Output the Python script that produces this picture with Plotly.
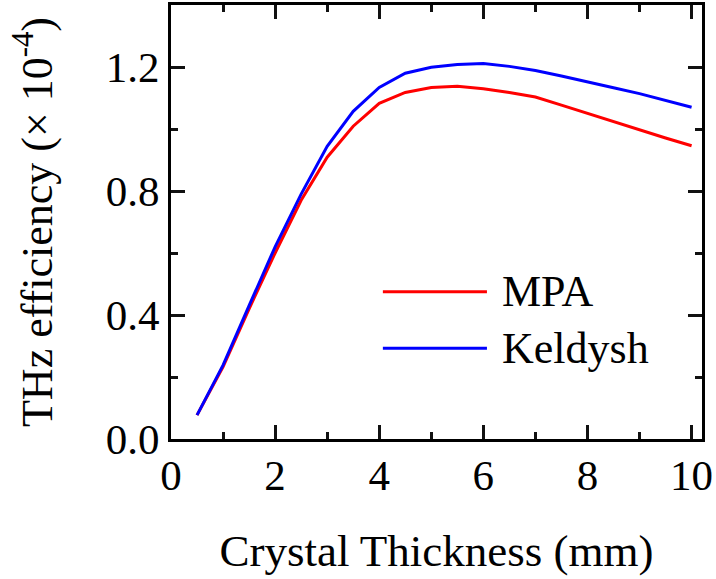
import plotly.graph_objects as go

thickness = [0.5, 1.0, 1.5, 2.0, 2.5, 3.0, 3.5, 4.0, 4.5, 5.0, 5.5, 6.0, 6.5, 7.0, 7.5, 8.0, 8.5, 9.0, 9.5, 10.0]
mpa = [0.077, 0.233, 0.420, 0.600, 0.770, 0.909, 1.009, 1.083, 1.118, 1.134, 1.138, 1.130, 1.118, 1.103, 1.077, 1.050, 1.023, 0.996, 0.971, 0.946]
keldysh = [0.077, 0.238, 0.430, 0.620, 0.790, 0.944, 1.057, 1.134, 1.180, 1.199, 1.208, 1.211, 1.202, 1.189, 1.171, 1.151, 1.133, 1.114, 1.092, 1.070]

series_names = ["MPA", "Keldysh"]
series_colors = ["#ff0000", "#0000ff"]

FONT = "Liberation Serif, Times New Roman, serif"
INK = "#000000"
TICK = "#111111"

fig = go.Figure()
for name, ys, col in zip(series_names, [mpa, keldysh], series_colors):
    fig.add_trace(go.Scatter(x=thickness, y=ys, mode="lines", name=name,
                             line=dict(color=col, width=3), showlegend=False))
# invisible carriers so the extra tick axes (top/right, minor) are drawn
for k in (2, 3, 4):
    fig.add_trace(go.Scatter(x=thickness, y=mpa, xaxis=f"x{k}", yaxis=f"y{k}", mode="lines",
                             line=dict(width=0), opacity=0, showlegend=False, hoverinfo="skip"))

major = dict(ticks="inside", ticklen=14, tickwidth=3, tickcolor=TICK, showgrid=False, zeroline=False)
minor_t = dict(ticks="inside", ticklen=7, tickwidth=3, tickcolor=TICK, showgrid=False, zeroline=False,
               showline=False, showticklabels=False)

fig.update_layout(
    xaxis=dict(
        range=[0, 10.2], tickmode="linear", tick0=0, dtick=2,
        showline=True, linecolor=INK, linewidth=3, mirror=True,
        ticklabelstandoff=-4,
        tickfont=dict(family=FONT, size=43, color=INK),
        title=dict(text="Crystal Thickness (mm)", font=dict(family=FONT, size=45, color=INK), standoff=37),
        **major,
    ),
    yaxis=dict(
        range=[0, 1.4], tickmode="linear", tick0=0, dtick=0.4, tickformat=".1f",
        showline=True, linecolor=INK, linewidth=3, mirror=True,
        tickfont=dict(family=FONT, size=43, color=INK),
        title=dict(text="THz efficiency (× 10<sup>-4</sup>)", font=dict(family=FONT, size=44, color=INK), standoff=40),
        **major,
    ),
    xaxis2=dict(overlaying="x", side="top", anchor="y2", matches="x", showline=False,
                tickmode="linear", tick0=0, dtick=2, showticklabels=False, **major),
    yaxis2=dict(overlaying="y", side="right", anchor="x2", matches="y", showline=False,
                tickmode="linear", tick0=0, dtick=0.4, showticklabels=False, **major),
    xaxis3=dict(overlaying="x", side="bottom", anchor="y3", matches="x",
                tickmode="linear", tick0=0, dtick=1, **minor_t),
    yaxis3=dict(overlaying="y", side="left", anchor="x3", matches="y",
                tickmode="linear", tick0=0, dtick=0.2, **minor_t),
    xaxis4=dict(overlaying="x", side="top", anchor="y4", matches="x",
                tickmode="linear", tick0=0, dtick=1, **minor_t),
    yaxis4=dict(overlaying="y", side="right", anchor="x4", matches="y",
                tickmode="linear", tick0=0, dtick=0.2, **minor_t),
)

legend_y = [0.339, 0.209]
for name, col, ly in zip(series_names, series_colors, legend_y):
    fig.add_shape(type="line", xref="paper", yref="paper", x0=0.399, x1=0.595, y0=ly, y1=ly,
                  line=dict(color=col, width=3))
    fig.add_annotation(xref="paper", yref="paper", x=0.619, y=ly, text=name, showarrow=False,
                       xanchor="left", yanchor="middle",
                       font=dict(family=FONT, size=44, color=INK))

fig.update_layout(
    width=716, height=579,
    margin=dict(l=171, r=14, t=5, b=140, autoexpand=False),
    paper_bgcolor="white", plot_bgcolor="white",
)

fig.write_html("out.html")
